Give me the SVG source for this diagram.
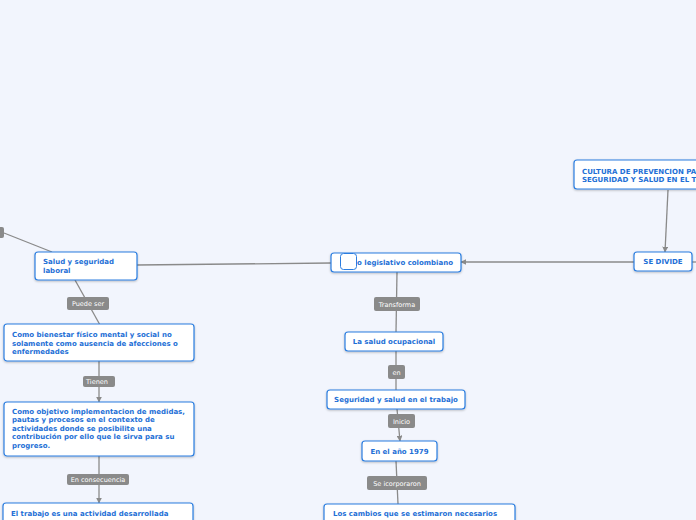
<svg xmlns="http://www.w3.org/2000/svg" width="696" height="520" viewBox="0 0 696 520">
<defs>
<marker id="ah" viewBox="0 0 10 10" refX="9" refY="5" markerWidth="6" markerHeight="6" markerUnits="userSpaceOnUse" orient="auto"><path d="M0,0 L10,5 L0,10 z" fill="#8a8a8a"/></marker>
<filter id="sh" x="-10%" y="-20%" width="120%" height="160%"><feDropShadow dx="0" dy="1" stdDeviation="0.8" flood-color="#000" flood-opacity="0.25"/></filter>
</defs>
<style>
.node rect.b{fill:#fff;stroke:#2b7de0;stroke-width:1.2;filter:url(#sh)}
.node text{font-family:"DejaVu Sans",Verdana,sans-serif;font-weight:bold;font-size:7px;fill:#1e6fd6}
.lbl rect{fill:#8a8a8a}
.lbl text{font-family:"DejaVu Sans",Verdana,sans-serif;font-size:6.5px;fill:#fff;text-anchor:middle}
.c{fill:none;stroke:#8a8a8a;stroke-width:1.3}
</style>
<rect width="696" height="520" fill="#f2f5fd"/>
<g id="connectors">
<path class="c" d="M4,233 L52,252"/>
<path class="c" d="M137,265 L331,263"/>
<path class="c" d="M75,280 L100,325"/>
<path class="c" d="M99,361 L99,402" marker-end="url(#ah)"/>
<path class="c" d="M99,456 L99,503" marker-end="url(#ah)"/>
<path class="c" d="M634,262 L461,262" marker-end="url(#ah)"/>
<path class="c" d="M668,190 L665,252" marker-end="url(#ah)"/>
<path class="c" d="M692,262 L696,262"/>
<path class="c" d="M397,272 L396,332"/>
<path class="c" d="M396,351 L396,390"/>
<path class="c" d="M397,409 L400,441" marker-end="url(#ah)"/>
<path class="c" d="M396,461 L398,504"/>
<g class="lbl"><rect x="-10" y="227" width="14" height="11" rx="2"/></g>
<g class="lbl"><rect x="67" y="297" width="42" height="13" rx="2"/><text x="88" y="306">Puede ser</text></g>
<g class="lbl"><rect x="83" y="376" width="32" height="11" rx="2"/><text x="97" y="384">Tienen</text></g>
<g class="lbl"><rect x="67" y="474" width="62" height="11" rx="2"/><text x="98" y="482">En consecuencia</text></g>
<g class="lbl"><rect x="374" y="297" width="46" height="14" rx="2"/><text x="397" y="306.5">Transforma</text></g>
<g class="lbl"><rect x="388" y="365" width="17" height="14" rx="2"/><text x="396.5" y="374.5">en</text></g>
<g class="lbl"><rect x="388" y="414" width="27" height="14" rx="2"/><text x="401.5" y="423.5">Inicio</text></g>
<g class="lbl"><rect x="367" y="476" width="60" height="14" rx="2"/><text x="397" y="485.5">Se icorporaron</text></g>
</g>
<g id="n-salud" class="node"><rect class="b" x="35" y="252" width="102" height="28" rx="3"/><text x="43" y="263.5">Salud y seguridad</text><text x="43" y="273">laboral</text></g>
<g id="n-bienestar" class="node"><rect class="b" x="4" y="324" width="190" height="37" rx="3"/><text x="12" y="337">Como bienestar físico mental y social no</text><text x="12" y="345.5">solamente como ausencia de afecciones o</text><text x="12" y="354">enfermedades</text></g>
<g id="n-objetivo" class="node"><rect class="b" x="4" y="402" width="190" height="54" rx="3"/><text x="12" y="413.5">Como objetivo implementacion de medidas,</text><text x="12" y="422">pautas y procesos en el contexto de</text><text x="12" y="430.5">actividades donde se posibilite una</text><text x="12" y="439">contribución por ello que le sirva para su</text><text x="12" y="447.5">progreso.</text></g>
<g id="n-trabajo" class="node"><rect class="b" x="3" y="503" width="190" height="40" rx="3"/><text x="11" y="515.5">El trabajo es una actividad desarrollada</text></g>
<g id="n-marco" class="node"><rect class="b" x="331" y="253" width="130" height="19" rx="3"/><text x="357" y="265">o legislativo colombiano</text><rect x="340.5" y="253.5" width="16" height="16" rx="3" fill="#fff" stroke="#2b7de0" stroke-width="1"/></g>
<g id="n-ocupacional" class="node"><rect class="b" x="345" y="332" width="98" height="19" rx="3"/><text x="394" y="344" text-anchor="middle">La salud ocupacional</text></g>
<g id="n-sst" class="node"><rect class="b" x="327" y="390" width="138" height="19" rx="3"/><text x="396" y="402" text-anchor="middle">Seguridad y salud en el trabajo</text></g>
<g id="n-1979" class="node"><rect class="b" x="362" y="441" width="75" height="20" rx="3"/><text x="399.5" y="453.5" text-anchor="middle">En el año 1979</text></g>
<g id="n-cambios" class="node"><rect class="b" x="324" y="504" width="191" height="40" rx="3"/><text x="333" y="516">Los cambios que se estimaron necesarios</text></g>
<g id="n-cultura" class="node"><rect class="b" x="574" y="160" width="140" height="29" rx="3"/><text x="582" y="173.5">CULTURA DE PREVENCION PA</text><text x="582" y="182">SEGURIDAD Y SALUD EN EL T</text></g>
<g id="n-divide" class="node"><rect class="b" x="634" y="252" width="58" height="19" rx="3"/><text x="663" y="264" text-anchor="middle">SE DIVIDE</text></g>
</svg>
